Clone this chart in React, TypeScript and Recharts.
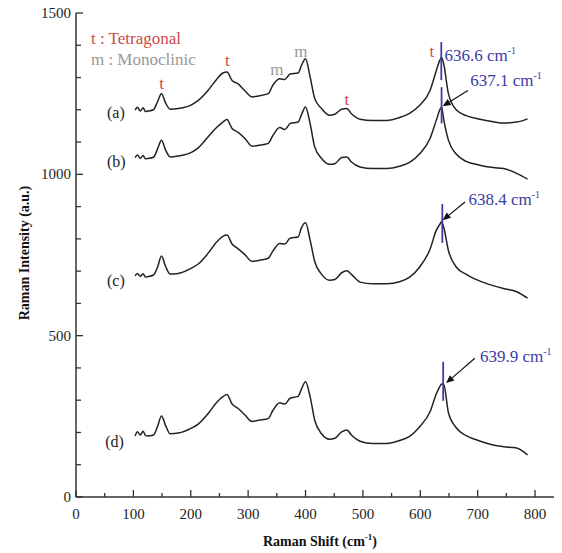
import { LineChart, Line, XAxis, YAxis, ReferenceLine, ReferenceDot } from 'recharts';

// Raman shift positions (cm-1) shared by the four spectra
const shift = [
  103, 107, 112, 117, 121, 125, 135, 142, 149, 156, 164, 178, 202, 213, 230, 245, 256, 263, 272, 282,
  294, 307, 318, 335, 343, 355, 364, 373, 387, 393, 400, 408, 416, 428, 442, 451, 463, 472, 480, 495,
  517, 541, 564, 582, 599, 617, 628, 634, 637, 641, 649, 663, 680, 700, 727, 745, 768, 787
];

const curveA = [
  1199, 1208, 1196, 1206, 1195, 1196, 1200, 1225, 1250, 1222, 1202, 1204, 1216, 1229, 1260, 1294, 1314, 1317, 1291, 1281,
  1260, 1240, 1243, 1250, 1276, 1296, 1294, 1311, 1314, 1338, 1358, 1302, 1235, 1204, 1183, 1186, 1202, 1204, 1188, 1171,
  1167, 1167, 1176, 1190, 1214, 1260, 1322, 1353, 1362, 1341, 1250, 1199, 1182, 1172, 1163, 1159, 1162, 1172
];

const curveB = [
  1052, 1060, 1050, 1058, 1048, 1049, 1053, 1078, 1106, 1076, 1054, 1057, 1069, 1082, 1116, 1145, 1162, 1170, 1142, 1131,
  1112, 1087, 1090, 1096, 1120, 1145, 1139, 1157, 1162, 1185, 1209, 1157, 1085, 1049, 1031, 1033, 1052, 1054, 1038, 1023,
  1018, 1018, 1025, 1038, 1064, 1111, 1168, 1200, 1209, 1168, 1106, 1062, 1040, 1030, 1021, 1018, 1003, 985
];

const curveC = [
  685, 693, 684, 692, 682, 683, 688, 712, 747, 715, 691, 693, 710, 722, 755, 790, 808, 812, 784, 770,
  752, 730, 733, 740, 762, 786, 784, 802, 806, 835, 850, 796, 730, 690, 672, 674, 695, 701, 690, 666,
  661, 661, 667, 682, 713, 768, 827, 845, 853, 835, 764, 712, 690, 672, 655, 646, 636, 616
];

const curveD = [
  189, 202, 192, 204, 191, 189, 192, 218, 251, 222, 196, 198, 214, 226, 258, 293, 311, 318, 288, 275,
  255, 234, 238, 243, 268, 292, 288, 306, 312, 335, 357, 311, 238, 196, 179, 182, 202, 208, 192, 173,
  166, 166, 175, 189, 218, 264, 320, 342, 350, 348, 262, 214, 190, 176, 161, 156, 152, 130
];

const xTicks = [0, 50, 100, 150, 200, 250, 300, 350, 400, 450, 500, 550, 600, 650, 700, 750, 800];
const yTicks = [0, 100, 200, 300, 400, 500, 600, 700, 800, 900, 1000, 1100, 1200, 1300, 1400, 1500];

// sample labels (a)-(d)
const sampleNames = ['(a)', '(b)', '(c)', '(d)'];
const sampleLabelX = [54, 54, 54, 51];
const sampleLabelY = [1174, 1022, 653, 155];

// phase markers above peaks
const phaseText = ['t', 't', 'm', 'm', 't', 't'];
const phaseX = [149, 264, 350, 392, 472, 620];
const phaseY = [1264, 1335, 1307, 1363, 1214, 1363];

// fitted peak positions with their marker segments
const peakNames = ['636.6', '637.1', '638.4', '639.9'];
const peakX = [636.6, 637.1, 638.4, 639.9];
const peakTop = [1410, 1270, 908, 419];
const peakBottom = [1292, 1158, 788, 298];
const peakLabelX = [642, 687, 684, 704];
const peakLabelY = [1352, 1273, 905, 418];
// arrows (tail -> head), none for (a)
const arrowTailX = [683, 678, 695];
const arrowTailY = [1260, 914, 430];
const arrowHeadX = [639, 639, 645];
const arrowHeadY = [1211, 858, 353];

const data = shift.map((s, i) => ({ shift: s, a: curveA[i], b: curveB[i], c: curveC[i], d: curveD[i] }));

const SERIF = { fontFamily: "'Liberation Serif', 'Times New Roman', serif" };
const AXIS = '#333';
const BLUE = '#3c3ca6';
const RED = '#cc4a4a';

function BottomTick({ x, y, payload }: any) {
  const major = payload.value % 100 === 0;
  return (
    <g>
      <line x1={x} x2={x} y1={y} y2={y - (major ? 7 : 4)} stroke={AXIS} strokeWidth={1.3} />
      {major && (
        <text x={x} y={y + 22} textAnchor="middle" fontSize={15} style={SERIF} fill="#222">
          {payload.value}
        </text>
      )}
    </g>
  );
}

function TopTick({ x, y, payload }: any) {
  const major = payload.value % 100 === 0;
  return <line x1={x} x2={x} y1={y} y2={y + (major ? 7 : 4)} stroke={AXIS} strokeWidth={1.3} />;
}

function LeftTick({ x, y, payload }: any) {
  const major = payload.value % 500 === 0;
  return (
    <g>
      <line x1={x} x2={x + (major ? 7 : 5)} y1={y} y2={y} stroke={AXIS} strokeWidth={1.3} />
      {major && (
        <text x={x - 5} y={y + 5} textAnchor="end" fontSize={15} style={SERIF} fill="#222">
          {payload.value}
        </text>
      )}
    </g>
  );
}

function RightTick({ x, y, payload }: any) {
  const major = payload.value % 500 === 0;
  return <line x1={x} x2={x - (major ? 7 : 5)} y1={y} y2={y} stroke={AXIS} strokeWidth={1.3} />;
}

function Arrow({ x1, y1, x2, y2 }: any) {
  const ang = Math.atan2(y2 - y1, x2 - x1);
  const len = 8;
  const w = 3.5;
  const bx = x2 - len * Math.cos(ang);
  const by = y2 - len * Math.sin(ang);
  const px = -Math.sin(ang) * w;
  const py = Math.cos(ang) * w;
  return (
    <g>
      <line x1={x1} y1={y1} x2={bx} y2={by} stroke="#111" strokeWidth={1.2} />
      <polygon points={`${x2},${y2} ${bx + px},${by + py} ${bx - px},${by - py}`} fill="#111" />
    </g>
  );
}

function App() {
  return (
    <div style={{ marginLeft: -8, marginTop: -8, width: 562, height: 553, background: '#fff' }}>
      <LineChart width={562} height={553} data={data} margin={{ top: 13, right: 4, left: 0, bottom: 0 }}>
        <XAxis
          dataKey="shift"
          type="number"
          domain={[0, 840]}
          ticks={xTicks}
          interval={0}
          height={56}
          tickSize={0}
          tickMargin={0}
          tickLine={false}
          axisLine={{ stroke: AXIS, strokeWidth: 1.5 }}
          tick={<BottomTick />}
          label={{
            position: 'insideBottom',
            content: ({ viewBox }: any) => (
              <text
                x={viewBox.x + viewBox.width / 2 + 3}
                y={viewBox.y + 49}
                textAnchor="middle"
                fontSize={14}
                fontWeight="bold"
                style={SERIF}
                fill="#111"
              >
                Raman Shift (cm
                <tspan dy={-6} fontSize={9}>-1</tspan>
                <tspan dy={6}>)</tspan>
              </text>
            )
          }}
        />
        <XAxis
          xAxisId="top"
          orientation="top"
          dataKey="shift"
          type="number"
          domain={[0, 840]}
          ticks={xTicks}
          interval={0}
          height={0}
          tickSize={0}
          tickMargin={0}
          tickLine={false}
          axisLine={{ stroke: AXIS, strokeWidth: 1.5 }}
          tick={<TopTick />}
        />
        <YAxis
          type="number"
          domain={[0, 1500]}
          ticks={yTicks}
          interval={0}
          width={76}
          tickSize={0}
          tickMargin={0}
          tickLine={false}
          axisLine={{ stroke: AXIS, strokeWidth: 1.5 }}
          tick={<LeftTick />}
          label={{
            position: 'insideLeft',
            content: ({ viewBox }: any) => {
              const cy = viewBox.y + viewBox.height / 2 - 2;
              return (
                <text
                  x={24}
                  y={cy}
                  transform={`rotate(-90 24 ${cy})`}
                  textAnchor="middle"
                  dominantBaseline="central"
                  fontSize={14}
                  fontWeight="bold"
                  style={SERIF}
                  fill="#111"
                >
                  Raman Intensity (a.u.)
                </text>
              );
            }
          }}
        />
        <YAxis
          yAxisId="right"
          orientation="right"
          type="number"
          domain={[0, 1500]}
          ticks={yTicks}
          interval={0}
          width={0}
          tickSize={0}
          tickMargin={0}
          tickLine={false}
          axisLine={{ stroke: AXIS, strokeWidth: 1.5 }}
          tick={<RightTick />}
        />

        {['a', 'b', 'c', 'd'].map((k) => (
          <Line
            key={k}
            dataKey={k}
            type="monotone"
            stroke="#222"
            strokeWidth={1.5}
            dot={false}
            activeDot={false}
            isAnimationActive={false}
          />
        ))}

        {peakX.map((px, i) => (
          <ReferenceLine
            key={'pk' + i}
            segment={[
              { x: px, y: peakTop[i] },
              { x: px, y: peakBottom[i] }
            ]}
            stroke={BLUE}
            strokeWidth={1.8}
          />
        ))}

        {arrowTailX.map((tx, i) => (
          <ReferenceLine
            key={'ar' + i}
            segment={[
              { x: tx, y: arrowTailY[i] },
              { x: arrowHeadX[i], y: arrowHeadY[i] }
            ]}
            shape={(p: any) => <Arrow {...p} />}
          />
        ))}

        {peakNames.map((name, i) => (
          <ReferenceDot
            key={'pl' + i}
            x={peakLabelX[i]}
            y={peakLabelY[i]}
            r={0}
            shape={(p: any) => (
              <text x={p.cx} y={p.cy} fontSize={17} style={SERIF} fill={BLUE}>
                {name} cm
                <tspan dy={-7} fontSize={10}>-1</tspan>
              </text>
            )}
          />
        ))}

        {sampleNames.map((name, i) => (
          <ReferenceDot
            key={'sn' + i}
            x={sampleLabelX[i]}
            y={sampleLabelY[i]}
            r={0}
            shape={(p: any) => (
              <text x={p.cx} y={p.cy} fontSize={16} style={SERIF} fill="#222">
                {name}
              </text>
            )}
          />
        ))}

        {phaseText.map((t, i) => (
          <ReferenceDot
            key={'ph' + i}
            x={phaseX[i]}
            y={phaseY[i]}
            r={0}
            shape={(p: any) => (
              <text
                x={p.cx}
                y={p.cy}
                textAnchor="middle"
                fontSize={17}
                style={SERIF}
                fill={t === 't' ? RED : '#999'}
              >
                {t}
              </text>
            )}
          />
        ))}

        <ReferenceDot
          x={26}
          y={1403}
          r={0}
          shape={(p: any) => (
            <text x={p.cx} y={p.cy} fontSize={17} style={SERIF} fill={RED}>
              t : Tetragonal
            </text>
          )}
        />
        <ReferenceDot
          x={26}
          y={1338}
          r={0}
          shape={(p: any) => (
            <text x={p.cx} y={p.cy} fontSize={17} style={SERIF} fill="#999">
              m : Monoclinic
            </text>
          )}
        />
      </LineChart>
    </div>
  );
}

export default App;
